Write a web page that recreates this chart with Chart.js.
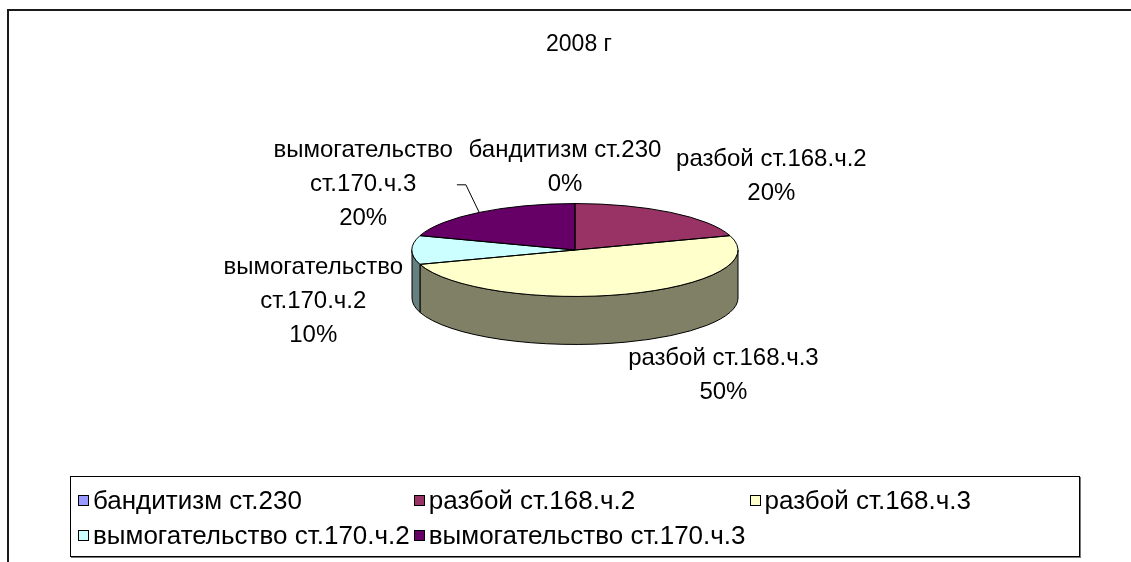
<!DOCTYPE html>
<html lang="ru">
<head>
<meta charset="utf-8">
<title>2008 г</title>
<script src="https://cdn.jsdelivr.net/npm/chart.js@4.4.1/dist/chart.umd.min.js"></script>
<style>
    html, body { margin: 0; padding: 0; background: #fff; }
    body {
        width: 1131px; height: 562px; position: relative; overflow: hidden;
        font-family: "Liberation Sans", Arial, sans-serif; color: #000;
    }
    .frame {
        position: absolute; left: 7px; top: 9px; width: 1300px; height: 700px;
        border: 2px solid #1a1a1a; box-sizing: border-box;
    }
    #pie { position: absolute; left: 0; top: 0; }
    #legend {
        position: absolute; left: 70px; top: 476px; width: 1010px; height: 81px;
        box-sizing: border-box; border: 1px solid #000; box-shadow: 1px 1px 0 #777;
        background: #fff; padding: 6px 7px;
        display: grid; grid-template-columns: repeat(3, max-content); column-gap: 4px;
        font-size: 26px; line-height: 35px;
    }
    .item { display: flex; align-items: center; white-space: nowrap; }
    .swatch {
        width: 11px; height: 11px; border: 1px solid #000; box-sizing: border-box;
        margin-right: 4px;
    }
</style>
</head>
<body>
<div class="frame"></div>
<canvas id="pie" width="1131" height="562"></canvas>
<div id="legend"></div>

<script>
const chartTitle = "2008 г";
const categories = [
    "бандитизм ст.230",
    "разбой ст.168.ч.2",
    "разбой ст.168.ч.3",
    "вымогательство ст.170.ч.2",
    "вымогательство ст.170.ч.3",
];
const shares = [0, 20, 50, 10, 20];
const colors = ["#9999FF", "#993366", "#FFFFCC", "#CCFFFF", "#660066"];

const FONT = '"Liberation Sans", Arial, sans-serif';

// side walls are the top colour at half brightness, like Excel does
function darker(hex, f) {
    const n = parseInt(hex.slice(1), 16);
    const r = Math.round(((n >> 16) & 255) * f);
    const g = Math.round(((n >> 8) & 255) * f);
    const b = Math.round((n & 255) * f);
    return `rgb(${r}, ${g}, ${b})`;
}

function wrap(ctx, text, maxWidth) {
    const words = text.split(" ");
    const lines = [];
    let line = "";
    words.forEach((w) => {
        const test = line ? line + " " + w : w;
        if (line && ctx.measureText(test).width > maxWidth) {
            lines.push(line);
            line = w;
        } else {
            line = test;
        }
    });
    if (line) lines.push(line);
    return lines;
}

const pie3d = {
    id: "pie3d",
    beforeDatasetsDraw(chart, args, opts) {
        const arcs = chart.getDatasetMeta(0).data;
        const { x: cx, y: cy, outerRadius: r } = arcs[0];
        const ry = r * opts.tilt;
        const ctx = chart.ctx;

        ctx.save();
        ctx.lineWidth = 1;
        ctx.strokeStyle = "#000";
        arcs.forEach((arc, i) => {
            const s = arc.startAngle, e = arc.endAngle;
            // only the front half (0..PI) of the rim is visible
            for (const k of [-2 * Math.PI, 0, 2 * Math.PI]) {
                const lo = Math.max(s, k), hi = Math.min(e, k + Math.PI);
                if (hi - lo < 1e-6) continue;
                ctx.beginPath();
                ctx.ellipse(cx, cy, r, ry, 0, lo, hi);
                ctx.ellipse(cx, cy + opts.depth, r, ry, 0, hi, lo, true);
                ctx.closePath();
                ctx.fillStyle = darker(colors[i], 0.5);
                ctx.fill();
                ctx.stroke();
            }
        });
        ctx.restore();

        // squash the top face into an ellipse
        ctx.save();
        ctx.translate(cx, cy);
        ctx.scale(1, opts.tilt);
        ctx.translate(-cx, -cy);
    },
    afterDatasetsDraw(chart, args, opts) {
        const ctx = chart.ctx;
        ctx.restore();

        const arcs = chart.getDatasetMeta(0).data;
        const { x: cx, y: cy, outerRadius: r } = arcs[0];
        const ry = r * opts.tilt;
        const values = chart.data.datasets[0].data;
        const total = values.reduce((a, b) => a + b, 0);

        ctx.save();
        ctx.lineWidth = 1;
        ctx.strokeStyle = "#000";
        arcs.forEach((arc) => {
            if (arc.endAngle - arc.startAngle < 1e-6) return;
            ctx.beginPath();
            ctx.moveTo(cx, cy);
            ctx.ellipse(cx, cy, r, ry, 0, arc.startAngle, arc.endAngle);
            ctx.closePath();
            ctx.stroke();
        });

        // data labels: category + percent, outside end
        ctx.font = `${opts.labelSize}px ${FONT}`;
        ctx.fillStyle = "#000";
        ctx.textAlign = "center";
        ctx.textBaseline = "middle";
        arcs.forEach((arc, i) => {
            const m = (arc.startAngle + arc.endAngle) / 2;
            const c = Math.cos(m), s = Math.sin(m);
            const lines = wrap(ctx, chart.data.labels[i], opts.labelWidth);
            lines.push(Math.round(values[i] / total * 100) + "%");
            const w = Math.max(...lines.map((l) => ctx.measureText(l).width));
            const h = lines.length * opts.lineHeight;
            const ax = cx + (r + 9) * c;
            const ay = cy + (ry + 2) * s + opts.depth * Math.max(0, s);
            let left = c > 0.15 ? ax : c < -0.15 ? ax - w : ax - w / 2;
            let top = s < -0.15 ? ay - h : ay;
            const nudge = opts.nudge[i] || [0, 0];
            left += nudge[0];
            top += nudge[1];
            lines.forEach((l, j) => ctx.fillText(l, left + w / 2, top + opts.lineHeight * (j + 0.5)));

            if (opts.leaders.includes(i)) {
                const sx = c < 0 ? left + w + 4 : left - 4;
                const sy = top + h / 2;
                ctx.beginPath();
                ctx.moveTo(sx, sy);
                ctx.lineTo(sx + (c < 0 ? 9 : -9), sy);
                ctx.lineTo(cx + r * c, cy + ry * s);
                ctx.stroke();
            }
        });

        ctx.font = `${opts.titleSize}px ${FONT}`;
        ctx.fillText(chartTitle, opts.titleX, opts.titleY);
        ctx.restore();
    }
};

const chart = new Chart(document.getElementById("pie").getContext("2d"), {
    type: "pie",
    data: {
        labels: categories,
        datasets: [{
            data: shares,
            backgroundColor: colors,
            borderWidth: 0,
            clip: false,
        }]
    },
    options: {
        responsive: false,
        animation: false,
        events: [],
        radius: 163,
        layout: { padding: { left: 412, right: 393, top: 87, bottom: 149 } },
        plugins: {
            legend: { display: false },
            tooltip: { enabled: false },
            pie3d: {
                tilt: 0.285,
                depth: 48,
                labelSize: 24,
                labelWidth: 210,
                lineHeight: 34,
                nudge: { 0: [-10, 0], 4: [-21, 25] },
                leaders: [4],
                titleSize: 23,
                titleX: 579,
                titleY: 45,
            }
        }
    },
    plugins: [pie3d]
});

// legend box built from the chart's own legend items
const legendEl = document.getElementById("legend");
chart.options.plugins.legend.labels.generateLabels(chart).forEach((item) => {
    const el = document.createElement("div");
    el.className = "item";
    const sw = document.createElement("span");
    sw.className = "swatch";
    sw.style.background = item.fillStyle;
    el.appendChild(sw);
    el.appendChild(document.createTextNode(item.text));
    legendEl.appendChild(el);
});
</script>
</body>
</html>
